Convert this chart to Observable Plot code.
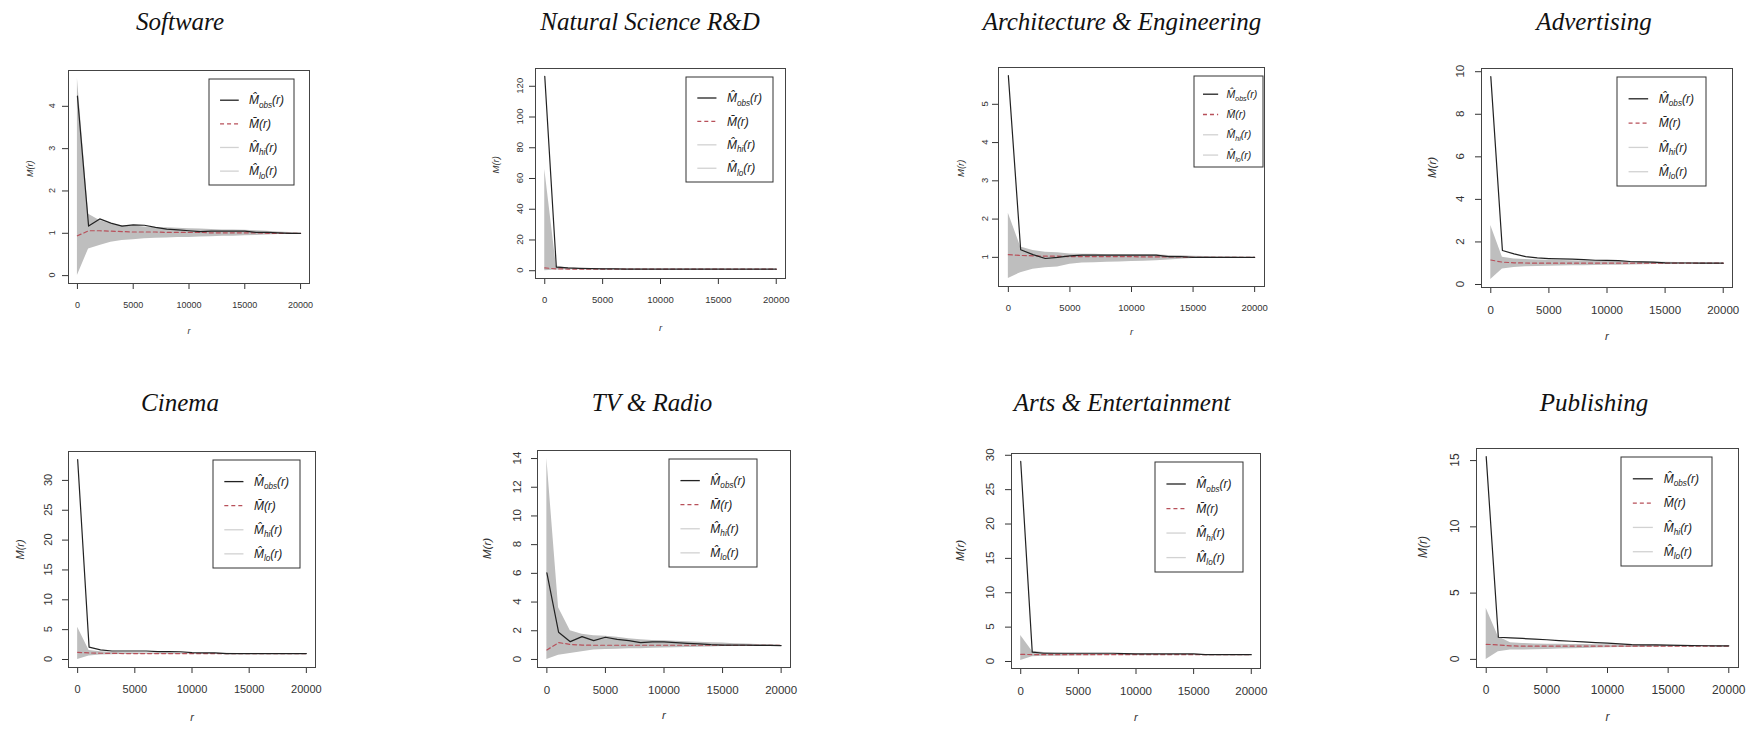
<!DOCTYPE html>
<html><head><meta charset="utf-8">
<script src="https://cdn.jsdelivr.net/npm/d3@7"></script>
<script src="https://cdn.jsdelivr.net/npm/@observablehq/plot@0.6"></script>
<style>
html,body{margin:0;padding:0;background:#fff;}
#root{position:relative;width:1755px;height:731px;overflow:hidden;background:#fff;}
.title{position:absolute;font-family:"Liberation Serif","DejaVu Serif",serif;font-style:italic;font-size:25px;line-height:25px;white-space:nowrap;transform:translateX(-50%);color:#111;}
.panel{position:absolute;}
</style></head><body><div id="root"></div>
<script>
// ---------- data ----------
const categories = ["Software", "Natural Science R&D", "Architecture & Engineering", "Advertising",
                    "Cinema", "TV & Radio", "Arts & Entertainment", "Publishing"];
const r = [0,1000,2000,3000,4000,5000,6000,7000,8000,9000,10000,11000,12000,13000,14000,15000,16000,17000,18000,19000,20000];
const xTickLabels = [0, 5000, 10000, 15000, 20000];
const yTickLabels = [
  [0,1,2,3,4],
  [0,20,40,60,80,100,120],
  [1,2,3,4,5],
  [0,2,4,6,8,10],
  [0,5,10,15,20,25,30],
  [0,2,4,6,8,10,12,14],
  [0,5,10,15,20,25,30],
  [0,5,10,15]
];
const legendLabels = [
  {base: "M\u0302", sub: "obs"},
  {base: "M\u0304", sub: ""},
  {base: "M\u0302", sub: "hi"},
  {base: "M\u0302", sub: "lo"}
];

const softwareObs  = [4.24,1.17,1.34,1.24,1.17,1.20,1.19,1.14,1.10,1.08,1.06,1.04,1.05,1.05,1.05,1.05,1.02,1.02,1.01,1.00,1.00];
const softwareMean = [0.94,1.06,1.06,1.05,1.04,1.03,1.03,1.03,1.02,1.02,1.02,1.02,1.01,1.01,1.01,1.01,1.01,1.00,1.00,1.00,1.00];
const softwareHi   = [4.66,1.45,1.30,1.22,1.18,1.17,1.15,1.13,1.13,1.12,1.11,1.10,1.09,1.08,1.08,1.07,1.06,1.05,1.03,1.02,1.00];
const softwareLo   = [0.00,0.63,0.71,0.79,0.83,0.85,0.87,0.88,0.89,0.90,0.90,0.91,0.92,0.93,0.93,0.94,0.95,0.96,0.97,0.98,0.99];

const scienceObs  = [126.5,2.3,1.8,1.5,1.3,1.2,1.15,1.1,1.1,1.05,1.05,1.0,1.0,1.0,1.0,1.0,1.0,1.0,1.0,1.0,1.0];
const scienceMean = [1.8,1.2,1.1,1.05,1.0,1.0,1.0,1.0,1.0,1.0,1.0,1.0,1.0,1.0,1.0,1.0,1.0,1.0,1.0,1.0,1.0];
const scienceHi   = [66,3.0,1.8,1.5,1.4,1.3,1.25,1.2,1.15,1.1,1.1,1.1,1.05,1.05,1.05,1.05,1.0,1.0,1.0,1.0,1.0];
const scienceLo   = [0.0,0.5,0.6,0.7,0.75,0.8,0.82,0.85,0.87,0.88,0.9,0.9,0.92,0.93,0.94,0.95,0.96,0.97,0.98,0.99,1.0];

const archObs  = [5.75,1.2,1.07,0.97,1.0,1.04,1.06,1.06,1.06,1.06,1.06,1.06,1.06,1.02,1.02,1.0,1.0,1.0,1.0,1.0,1.0];
const archMean = [1.07,1.05,1.04,1.03,1.03,1.02,1.02,1.02,1.02,1.02,1.02,1.01,1.01,1.01,1.01,1.0,1.0,1.0,1.0,1.0,1.0];
const archHi   = [2.15,1.27,1.18,1.13,1.12,1.09,1.08,1.08,1.07,1.07,1.07,1.07,1.07,1.05,1.04,1.03,1.02,1.01,1.01,1.0,1.0];
const archLo   = [0.45,0.6,0.69,0.73,0.75,0.82,0.85,0.86,0.87,0.88,0.89,0.9,0.91,0.93,0.95,0.97,0.98,0.99,0.99,1.0,1.0];

const advObs  = [9.77,1.6,1.44,1.31,1.25,1.22,1.2,1.19,1.17,1.14,1.13,1.12,1.08,1.06,1.05,1.02,1.01,1.01,1.0,1.0,1.0];
const advMean = [1.15,1.05,1.02,1.01,1.0,1.0,1.0,1.0,1.0,1.0,1.0,1.0,1.0,1.0,1.0,1.0,1.0,1.0,1.0,1.0,1.0];
const advHi   = [2.77,1.28,1.2,1.17,1.15,1.14,1.13,1.12,1.11,1.1,1.09,1.08,1.07,1.06,1.05,1.04,1.03,1.02,1.01,1.0,1.0];
const advLo   = [0.24,0.73,0.8,0.83,0.85,0.86,0.87,0.88,0.88,0.89,0.9,0.91,0.92,0.93,0.94,0.95,0.96,0.97,0.98,0.99,1.0];

const cinemaObs  = [33.5,2.06,1.62,1.42,1.42,1.42,1.42,1.33,1.32,1.3,1.15,1.12,1.1,1.0,1.0,1.0,1.0,1.0,1.0,1.0,1.0];
const cinemaMean = [1.2,1.1,1.05,1.02,1.0,1.0,1.0,1.0,1.0,1.0,1.0,1.0,1.0,1.0,1.0,1.0,1.0,1.0,1.0,1.0,1.0];
const cinemaHi   = [5.4,1.5,1.3,1.2,1.15,1.12,1.1,1.1,1.08,1.07,1.06,1.05,1.04,1.03,1.02,1.02,1.01,1.01,1.0,1.0,1.0];
const cinemaLo   = [0.0,0.6,0.75,0.8,0.83,0.85,0.87,0.88,0.89,0.9,0.91,0.92,0.93,0.94,0.95,0.96,0.97,0.98,0.99,0.99,1.0];

const tvObs  = [6.04,1.9,1.24,1.59,1.31,1.55,1.4,1.31,1.17,1.22,1.22,1.17,1.12,1.08,1.03,1.0,1.0,1.0,0.98,0.98,0.97];
const tvMean = [0.66,1.17,1.05,1.0,0.99,0.99,0.99,0.99,0.99,0.99,0.99,0.99,0.99,0.99,0.99,0.99,0.99,0.99,0.99,0.99,0.99];
const tvHi   = [14.0,3.6,2.0,1.75,1.65,1.62,1.55,1.45,1.38,1.33,1.3,1.27,1.24,1.2,1.17,1.14,1.1,1.07,1.05,1.03,1.0];
const tvLo   = [0.0,0.3,0.42,0.54,0.66,0.7,0.72,0.74,0.75,0.78,0.8,0.82,0.84,0.85,0.87,0.9,0.92,0.94,0.95,0.97,0.99];

const artsObs  = [29.1,1.36,1.2,1.2,1.2,1.2,1.2,1.2,1.2,1.15,1.1,1.1,1.1,1.1,1.1,1.1,1.0,1.0,1.0,1.0,1.0];
const artsMean = [1.05,1.0,1.0,1.0,1.0,1.0,1.0,1.0,1.0,1.0,1.0,1.0,1.0,1.0,1.0,1.0,1.0,1.0,1.0,1.0,1.0];
const artsHi   = [3.8,1.5,1.3,1.2,1.15,1.12,1.1,1.08,1.07,1.06,1.05,1.04,1.03,1.02,1.02,1.01,1.01,1.0,1.0,1.0,1.0];
const artsLo   = [0.14,0.7,0.75,0.78,0.8,0.82,0.85,0.87,0.88,0.9,0.91,0.92,0.93,0.94,0.95,0.96,0.97,0.98,0.99,0.99,1.0];

const pubObs  = [15.3,1.67,1.63,1.58,1.53,1.48,1.42,1.37,1.32,1.27,1.22,1.17,1.12,1.1,1.09,1.07,1.05,1.04,1.03,1.02,1.02];
const pubMean = [1.14,1.09,1.02,1.0,1.0,1.0,1.0,1.0,1.0,1.0,1.0,1.0,1.0,1.0,1.0,1.0,1.0,1.0,1.0,1.0,1.0];
const pubHi   = [3.86,1.7,1.26,1.2,1.17,1.15,1.14,1.13,1.12,1.11,1.1,1.09,1.08,1.07,1.06,1.05,1.04,1.03,1.02,1.01,1.0];
const pubLo   = [0.0,0.58,0.7,0.7,0.72,0.75,0.78,0.8,0.83,0.85,0.87,0.89,0.9,0.92,0.93,0.95,0.96,0.97,0.98,0.99,1.0];

const seriesByPanel = [
  [softwareObs, softwareMean, softwareHi, softwareLo],
  [scienceObs, scienceMean, scienceHi, scienceLo],
  [archObs, archMean, archHi, archLo],
  [advObs, advMean, advHi, advLo],
  [cinemaObs, cinemaMean, cinemaHi, cinemaLo],
  [tvObs, tvMean, tvHi, tvLo],
  [artsObs, artsMean, artsHi, artsLo],
  [pubObs, pubMean, pubHi, pubLo]
];

// ---------- layout (page pixels) ----------
const layout = [
  {frame:[68,70,309,283],    legend:[15,9,85,106], lfs:12,   fs:9,    ytd:16, ylab:38, xlab:50, title:[180,9]},
  {frame:[535,68,785,278],   legend:[12,9,87,105], lfs:12,   fs:9.5,  ytd:15, ylab:40, xlab:52, title:[650,9]},
  {frame:[998,67,1264,286],  legend:[1,9,69,91],   lfs:10.5, fs:9.5,  ytd:13, ylab:38, xlab:48, title:[1122,9]},
  {frame:[1481,68,1732,287], legend:[26,9,89,109], lfs:12,   fs:11.5, ytd:21, ylab:49, xlab:52, title:[1594,9]},
  {frame:[68,451,315,667],   legend:[15,9,87,108], lfs:12,   fs:11,   ytd:20, ylab:48, xlab:53, title:[180,390]},
  {frame:[537,450,790,667],  legend:[33,9,88,108], lfs:12,   fs:11.5, ytd:20, ylab:50, xlab:51, title:[652,390]},
  {frame:[1011,453,1260,668],legend:[17,9,88,110], lfs:12,   fs:11.5, ytd:21, ylab:51, xlab:52, title:[1122,390]},
  {frame:[1476,448,1738,667],legend:[26,9,91,109], lfs:12,   fs:12,   ytd:21, ylab:53, xlab:53, title:[1594,390]}
];

const OBS_COLOR = "#222", MEAN_COLOR = "#b8505a", ENV_LINE = "#d2d2d2", BAND = "#bebebe", TEXT = "#333";
const legendStyles = [
  {stroke: OBS_COLOR, dash: null},
  {stroke: MEAN_COLOR, dash: "4,3"},
  {stroke: ENV_LINE, dash: null},
  {stroke: ENV_LINE, dash: null}
];

function legendMark(L) {
  return (index, scales, values, dims) => {
    const fx1 = dims.width - dims.marginRight, fy0 = dims.marginTop;
    const [inR, inT, w, h] = L.legend;
    const x0 = fx1 - inR - w, y0 = fy0 + inT;
    const g = d3.create("svg:g");
    g.append("rect").attr("x", x0).attr("y", y0).attr("width", w).attr("height", h)
      .attr("fill", "white").attr("stroke", "#333").attr("stroke-width", 1);
    legendLabels.forEach((it, k) => {
      const yy = y0 + h * (0.2 + 0.223 * k);
      const st = legendStyles[k];
      const ln = g.append("line").attr("x1", x0 + 0.13 * w).attr("x2", x0 + 0.35 * w)
        .attr("y1", yy).attr("y2", yy).attr("stroke", st.stroke).attr("stroke-width", 1.3);
      if (st.dash) ln.attr("stroke-dasharray", st.dash);
      const fs = L.lfs;
      const t = g.append("text").attr("x", x0 + 0.47 * w).attr("y", yy + fs * 0.35)
        .attr("text-anchor", "start").attr("font-style", "italic").attr("font-size", fs)
        .attr("fill", "#222");
      t.append("tspan").text(it.base);
      if (it.sub) {
        t.append("tspan").attr("font-size", fs * 0.68).attr("dy", fs * 0.28).text(it.sub);
        t.append("tspan").attr("dy", -fs * 0.28).text("(r)");
      } else {
        t.append("tspan").text("(r)");
      }
    });
    return g.node();
  };
}

// rotated y tick labels (R style), placed with the plot's own y scale
function yTickTextMark(ticks, L) {
  return (index, scales, values, dims) => {
    const g = d3.create("svg:g").attr("fill", TEXT).attr("text-anchor", "middle");
    ticks.forEach(t => {
      g.append("text")
        .attr("transform", `translate(${dims.marginLeft - L.ytd},${scales.y(t)}) rotate(-90)`)
        .attr("dy", "0.35em")
        .text(String(t));
    });
    return g.node();
  };
}

const root = document.getElementById("root");
const mL = 62, mT = 10, mR = 10, mB = 62;

categories.forEach((name, i) => {
  const L = layout[i];
  const [obs, mean, hi, lo] = seriesByPanel[i];
  const rows = r.map((rv, j) => ({r: rv, obs: obs[j], mean: mean[j], hi: hi[j], lo: lo[j]}));
  const ymin = d3.min([...lo, ...obs]), ymax = d3.max([...hi, ...obs]);
  const yr = ymax - ymin;
  const xmin = d3.min(r), xmax = d3.max(r), xr = xmax - xmin;
  const [fx0, fy0, fx1, fy1] = L.frame;

  const title = document.createElement("div");
  title.className = "title";
  title.textContent = name;
  title.style.left = L.title[0] + "px";
  title.style.top = L.title[1] + "px";
  root.appendChild(title);

  const plot = Plot.plot({
    width: fx1 - fx0 + mL + mR,
    height: fy1 - fy0 + mT + mB,
    marginLeft: mL, marginTop: mT, marginRight: mR, marginBottom: mB,
    style: {fontFamily: "'Liberation Sans', Arial, sans-serif", fontSize: L.fs + "px", color: TEXT,
            background: "transparent", overflow: "visible"},
    x: {domain: [xmin - 0.04 * xr, xmax + 0.04 * xr], ticks: xTickLabels, tickSize: 6, tickPadding: 12,
        tickFormat: d => String(d), label: null},
    y: {domain: [ymin - 0.04 * yr, ymax + 0.04 * yr], ticks: yTickLabels[i], tickSize: 6,
        tickFormat: () => "", label: null},
    marks: [
      Plot.areaY(rows, {x: "r", y1: "lo", y2: "hi", fill: BAND}),
      Plot.lineY(rows, {x: "r", y: "mean", stroke: MEAN_COLOR, strokeWidth: 1.2, strokeDasharray: "4,3"}),
      Plot.lineY(rows, {x: "r", y: "obs", stroke: OBS_COLOR, strokeWidth: 1.2}),
      Plot.frame({stroke: "#444", strokeWidth: 1}),
      yTickTextMark(yTickLabels[i], L),
      Plot.text(["M(r)"], {text: d => d, frameAnchor: "left", dx: -L.ylab, rotate: -90,
        fontStyle: "italic", fill: TEXT}),
      Plot.text(["r"], {text: d => d, frameAnchor: "bottom", dy: L.xlab, fontStyle: "italic", fill: TEXT}),
      legendMark(L)
    ]
  });
  plot.classList.add("panel");
  plot.style.left = (fx0 - mL) + "px";
  plot.style.top = (fy0 - mT) + "px";
  root.appendChild(plot);
});
</script>
</body></html>
